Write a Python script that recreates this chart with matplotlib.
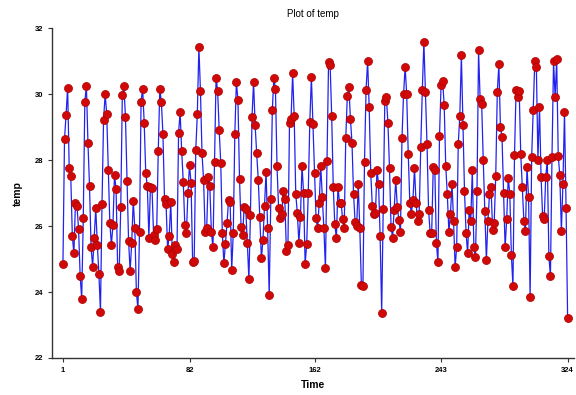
import matplotlib
matplotlib.use("Agg")
import matplotlib.pyplot as plt

# monthly temperature readings
temp = [
    24.85, 28.63, 29.38, 30.20, 27.75, 27.52, 25.70, 25.17, 26.70, 26.60, 25.90, 24.50,
    23.80, 26.23, 29.77, 30.24, 28.52, 27.22, 25.37, 24.77, 25.63, 26.54, 25.44, 24.56,
    23.40, 26.67, 29.23, 29.99, 29.41, 27.70, 26.10, 25.44, 26.03, 27.55, 27.12, 24.77,
    24.64, 26.58, 29.97, 30.24, 29.31, 27.37, 25.55, 24.64, 25.48, 26.77, 25.93, 24.00,
    23.48, 25.83, 29.77, 30.17, 29.13, 27.60, 27.21, 25.65, 27.19, 27.16, 25.73, 25.57,
    25.90, 28.28, 30.17, 29.75, 28.78, 26.81, 26.66, 25.29, 25.70, 26.74, 25.14, 24.92,
    25.42, 25.29, 28.83, 29.45, 28.27, 27.34, 26.03, 25.78, 27.00, 27.85, 27.30, 24.90,
    24.95, 28.30, 29.40, 31.43, 30.10, 28.20, 27.40, 25.83, 25.93, 27.50, 27.20, 25.83,
    25.35, 27.93, 30.50, 30.10, 28.90, 27.90, 25.80, 24.87, 25.47, 26.08, 26.80, 26.74,
    24.67, 25.78, 28.79, 30.37, 29.82, 27.44, 25.98, 25.73, 26.59, 26.52, 25.50, 24.38,
    26.33, 29.30, 30.37, 29.06, 28.20, 27.41, 26.26, 25.02, 25.57, 26.61, 27.65, 25.93,
    23.91, 26.81, 29.51, 30.50, 30.15, 27.82, 26.56, 26.25, 26.36, 27.06, 26.81, 25.25,
    25.42, 29.11, 29.26, 30.63, 29.33, 26.97, 26.40, 25.50, 26.28, 27.83, 27.01, 24.85,
    25.45, 27.01, 29.16, 30.52, 29.09, 27.62, 26.23, 25.93, 26.71, 27.82, 26.89, 25.93,
    24.72, 27.97, 30.98, 30.88, 29.33, 27.19, 26.05, 25.63, 27.19, 26.71, 26.71, 26.20,
    25.93, 28.66, 29.94, 30.22, 29.24, 28.52, 26.96, 26.11, 26.00, 27.27, 25.93, 24.21,
    24.19, 27.95, 30.14, 31.00, 29.60, 27.60, 26.61, 26.36, 26.40, 27.70, 27.27, 25.70,
    23.37, 26.53, 29.80, 29.90, 29.13, 27.75, 25.96, 25.65, 26.50, 27.40, 26.58, 26.18,
    25.83, 28.68, 30.00, 30.83, 30.00, 28.18, 26.71, 26.38, 26.79, 27.75, 26.69, 26.16,
    26.38, 28.40, 30.12, 31.59, 30.07, 28.50, 26.50, 25.80, 25.80, 27.80, 27.70, 25.50,
    24.90, 28.73, 30.27, 30.40, 29.67, 27.82, 26.96, 25.83, 26.36, 27.29, 26.16, 24.75,
    25.37, 28.50, 29.33, 31.18, 29.06, 27.06, 25.80, 25.17, 26.50, 26.16, 27.70, 25.35,
    25.07, 27.06, 31.33, 29.84, 29.69, 28.00, 26.45, 24.97, 26.16, 26.96, 27.17, 25.88,
    26.10, 27.52, 30.07, 30.90, 28.99, 28.71, 27.01, 25.35, 26.20, 27.47, 26.97, 25.12,
    24.18, 28.15, 30.12, 29.90, 30.10, 28.18, 27.17, 26.16, 25.86, 27.80, 26.87, 23.84,
    28.10, 29.52, 31.01, 30.81, 28.00, 29.62, 27.50, 26.30, 26.20, 27.50, 28.00, 25.09,
    24.48, 28.10, 31.01, 29.90, 31.05, 28.12, 27.55, 25.85, 27.27, 29.46, 26.56, 23.22,
]
time = list(range(1, len(temp) + 1))
xticks = [1, 82, 162, 243, 324]
yticks = [22, 24, 26, 28, 30, 32]

plt.rcParams['font.family'] = ['Liberation Sans', 'DejaVu Sans']

fig = plt.figure(figsize=(5.76, 3.95), dpi=100)
ax = fig.add_axes([0.0903, 0.0937, 0.906, 0.835])

ax.plot(time, temp, color='#2222ee', linewidth=0.9, marker='o', markersize=5.8,
        markerfacecolor='#d00808', markeredgecolor='#b00000', markeredgewidth=0.5)

ax.set_xlim(-6, 328)
ax.set_ylim(22, 32)
ax.set_xticks(xticks)
ax.set_yticks(yticks)
ax.tick_params(labelsize=5.5, length=3, width=0.8, color='#333333')
for lab in ax.get_xticklabels() + ax.get_yticklabels():
    lab.set_fontweight('bold')

for s in ['top', 'right']:
    ax.spines[s].set_visible(False)
for s in ['left', 'bottom']:
    ax.spines[s].set_linewidth(1.0)
    ax.spines[s].set_color('#333333')

ax.set_title('Plot of temp', fontsize=7, pad=8)
ax.set_xlabel('Time', fontsize=7.5, fontweight='bold', labelpad=4)
ax.set_ylabel('temp', fontsize=7.5, fontweight='bold', labelpad=8)

fig.savefig('out.png', dpi=100)
